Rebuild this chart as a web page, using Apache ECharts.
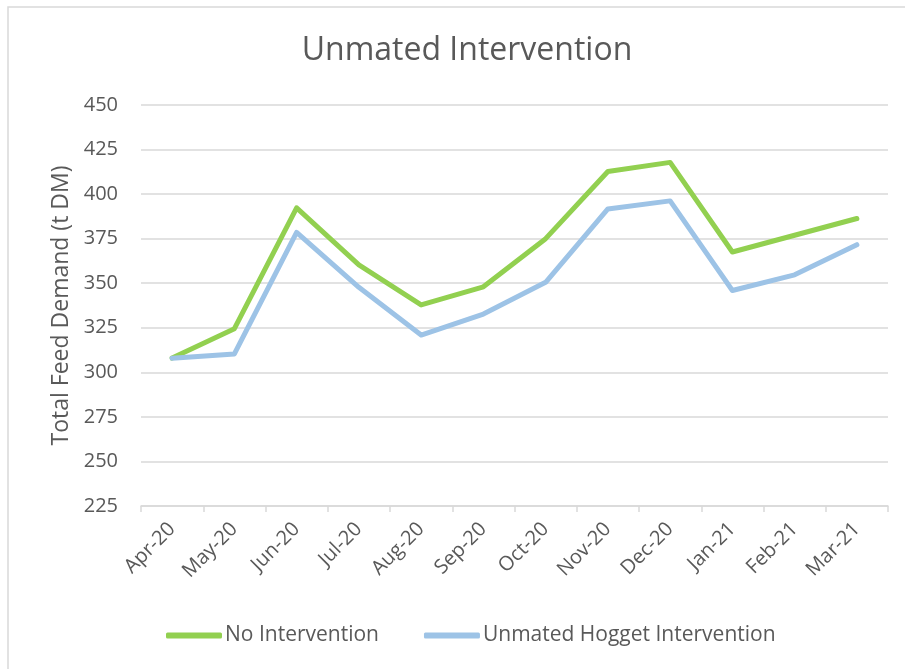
<!DOCTYPE html>
<html>
<head>
<meta charset="utf-8">
<script src="https://cdn.jsdelivr.net/npm/echarts@6/dist/echarts.min.js"></script>
<style>
  html, body { margin: 0; padding: 0; background: #fff; }
  #chart { width: 905px; height: 669px; }
</style>
</head>
<body>
<div id="chart"></div>
<script>
const months = ['Apr-20', 'May-20', 'Jun-20', 'Jul-20', 'Aug-20', 'Sep-20', 'Oct-20', 'Nov-20', 'Dec-20', 'Jan-21', 'Feb-21', 'Mar-21'];
const noIntervention = [308, 324.5, 392.3, 360.3, 337.8, 348, 375, 412.7, 417.8, 367.5, 376.9, 386.3];
const hoggetIntervention = [307.9, 310.3, 378.5, 347.7, 320.9, 332.7, 350.5, 391.7, 396.2, 345.9, 354.7, 371.6];

const textColor = '#595959';
const gridColor = '#d9d9d9';
const font = 'Open Sans';

const chart = echarts.init(document.getElementById('chart'));

chart.setOption({
  backgroundColor: '#fff',
  animation: false,
  graphic: [{
    type: 'rect',
    shape: { x: 8, y: 7, width: 1000, height: 1000 },
    style: { fill: 'none', stroke: gridColor, lineWidth: 1.5 },
    silent: true
  }],
  title: {
    text: 'Unmated Intervention',
    left: 462,
    textAlign: 'center',
    top: 30,
    textStyle: { color: textColor, fontFamily: font, fontSize: 32, fontWeight: 'normal' }
  },
  legend: {
    top: 620,
    left: 161,
    itemWidth: 56,
    itemHeight: 6,
    itemGap: 45,
    icon: 'roundRect',
    textStyle: { color: textColor, fontFamily: font, fontSize: 21, padding: [0, 0, 0, -2] },
    data: ['No Intervention', 'Unmated Hogget Intervention']
  },
  grid: { left: 141, right: 17, top: 105, bottom: 163, containLabel: false },
  xAxis: {
    type: 'category',
    data: months,
    boundaryGap: true,
    axisLine: { lineStyle: { color: gridColor, width: 1.5 } },
    axisTick: { show: true, length: 6, lineStyle: { color: gridColor, width: 1.5 } },
    axisLabel: {
      rotate: 45,
      color: textColor,
      fontFamily: font,
      fontSize: 20,
      margin: 20,
      interval: 0
    }
  },
  yAxis: {
    type: 'value',
    min: 225,
    max: 450,
    interval: 25,
    name: 'Total Feed Demand (t DM)',
    nameLocation: 'middle',
    nameGap: 67,
    nameTextStyle: { color: textColor, fontFamily: font, fontSize: 23 },
    axisLine: { show: false },
    axisTick: { show: false },
    axisLabel: { color: textColor, fontFamily: font, fontSize: 20, margin: 23 },
    splitLine: { lineStyle: { color: gridColor, width: 1.5 } }
  },
  series: [
    {
      name: 'No Intervention',
      type: 'line',
      data: noIntervention,
      symbol: 'none',
      color: '#92d050',
      lineStyle: { color: '#92d050', width: 5, cap: 'round', join: 'round' }
    },
    {
      name: 'Unmated Hogget Intervention',
      type: 'line',
      data: hoggetIntervention,
      symbol: 'none',
      color: '#9dc3e6',
      lineStyle: { color: '#9dc3e6', width: 5, cap: 'round', join: 'round' }
    }
  ]
});
</script>
</body>
</html>
